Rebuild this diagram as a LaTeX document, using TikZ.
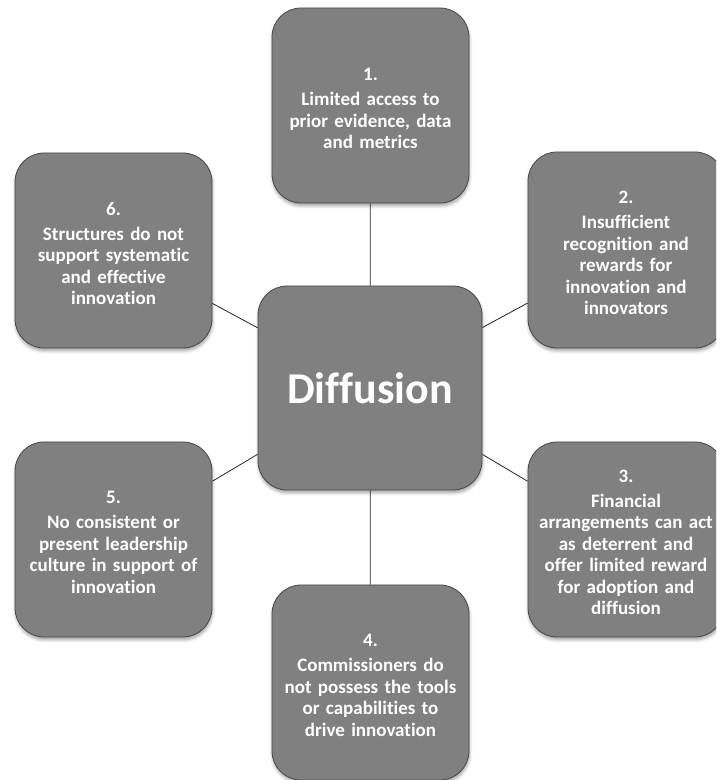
\documentclass[tikz,border=0pt]{standalone}
\usepackage{fontspec}
\setmainfont[Ligatures=NoCommon]{Carlito}
\usetikzlibrary{shadows.blur,backgrounds}
\begin{document}
\begin{tikzpicture}[x=1pt,y=1pt,
  card/.style={draw=black!72, line width=0.8pt, fill=black!50, rounded corners=29pt,
    minimum width=197pt, minimum height=195pt, inner sep=0pt,
    blur shadow={shadow xshift=0.5pt, shadow yshift=-3pt, shadow blur radius=3pt, shadow opacity=35}},
  caption/.style={text=white, font=\bfseries\fontsize{19}{21.5}\selectfont,
    align=center, text width=192pt, inner sep=0pt, yshift=-3pt},
  hub/.style={card, minimum width=224pt, minimum height=204pt, text=white,
    font=\bfseries\fontsize{44}{52}\selectfont},
  link/.style={draw=black!85, line width=0.8pt}]
\useasboundingbox (0,0) rectangle (716,780);
\clip (0,0) rectangle (716,780);

\node[hub]  (c)  at (370,392)   {Diffusion};
\node[card, label={[caption]center:{1.\\[3.5pt]Limited access to\\prior evidence, data\\and metrics}}]
  (b1) at (370.5,674.5) {};
\node[card, minimum width=196pt, minimum height=196pt,
  label={[caption]center:{2.\\[3.5pt]Insufficient\\recognition and\\rewards for\\innovation and\\innovators}}]
  (b2) at (626,530) {};
\node[card, minimum width=196pt,
  label={[caption]center:{3.\\[3.5pt]Financial\\arrangements can act\\as deterrent and\\offer limited reward\\for adoption and\\diffusion}}]
  (b3) at (626,240.5) {};
\node[card,
  label={[caption]center:{4.\\[3.5pt]Commissioners do\\not possess the tools\\or capabilities to\\drive innovation}}]
  (b4) at (370.5,97.5) {};
\node[card,
  label={[caption]center:{5.\\[3.5pt]No consistent or\\present leadership\\culture in support of\\innovation}}]
  (b5) at (113.5,240.5) {};
\node[card,
  label={[caption]center:{6.\\[3.5pt]Structures do not\\support systematic\\and effective\\innovation}}]
  (b6) at (113.5,529.5) {};

\begin{pgfonlayer}{background}
  \foreach \b in {b1,b2,b3,b4,b5,b6}
    \draw[link] (c) -- (\b);
\end{pgfonlayer}
\end{tikzpicture}
\end{document}
